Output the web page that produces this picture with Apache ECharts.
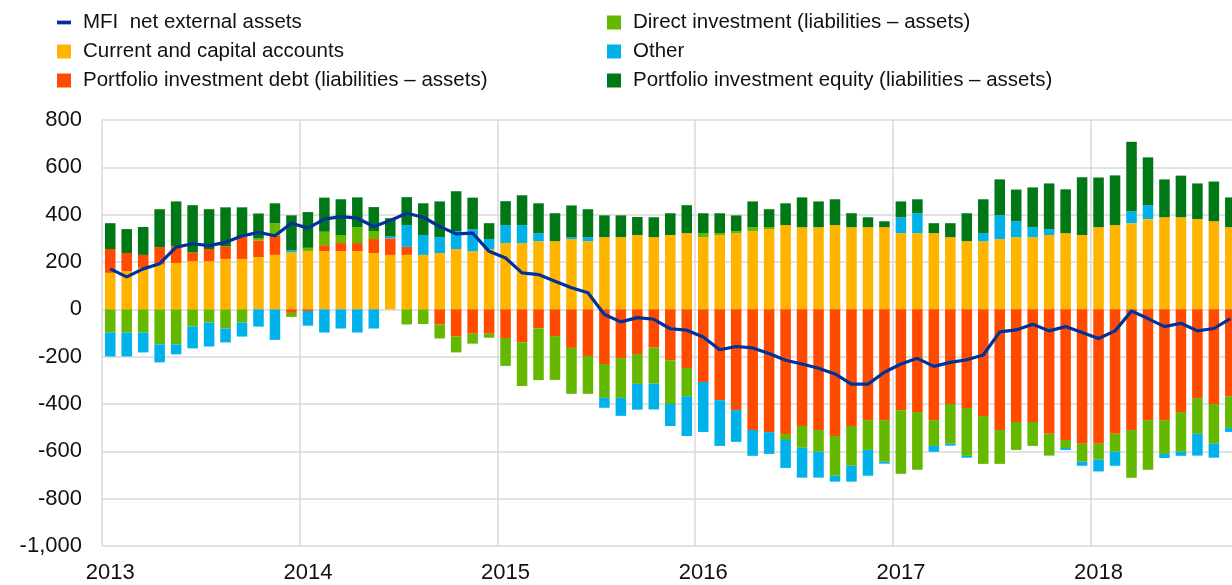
<!DOCTYPE html>
<html>
<head>
<meta charset="utf-8">
<script src="https://cdn.jsdelivr.net/npm/echarts@6/dist/echarts.min.js"></script>
<style>
html,body{margin:0;padding:0;background:#fff;overflow:hidden;width:1232px;height:585px;}
#chart{width:1288px;height:585px;}
</style>
</head>
<body>
<div id="chart"></div>
<script>
// Tick labels (years) and monthly categories 2013-01 .. 2018-12
const yearLabels = ["2013","2014","2015","2016","2017","2018"];
const monthCodes = ["01","02","03","04","05","06","07","08","09","10","11","12"];
const categories = [];
yearLabels.forEach(y => monthCodes.forEach(m => categories.push(y + "-" + m)));

const seriesNames = [
  "MFI  net external assets",
  "Current and capital accounts",
  "Portfolio investment debt (liabilities – assets)",
  "Direct investment (liabilities – assets)",
  "Other",
  "Portfolio investment equity (liabilities – assets)"
];

// EUR billions, 12-month cumulated flows
const mfiNetExternalAssets = [
  171,137,171,193,263,277,269,283,310,325,
  311,364,343,381,392,385,350,375,406,389,
  350,319,322,245,217,154,147,119,91,70,
  -22,-53,-35,-42,-82,-88,-117,-171,-157,-163,
  -187,-215,-231,-249,-273,-316,-316,-266,-231,-207,
  -241,-224,-213,-193,-95,-87,-63,-91,-73,-98,
  -123,-91,-7,-39,-73,-59,-91,-81,-39
];
const currentCapital = [
  154,161,175,189,196,203,203,213,213,221,
  230,241,246,246,246,246,238,230,230,230,
  238,255,246,255,280,280,288,288,297,288,
  305,305,314,305,314,322,305,314,322,330,
  339,356,347,347,356,347,347,347,322,322,
  322,305,288,288,297,305,305,314,322,314,
  347,356,364,381,389,389,381,372,347
];
const portfolioDebt = [
  101,77,55,74,70,38,52,53,95,70,
  81,-15,-7,25,34,34,59,70,34,0,
  -64,-115,-103,-103,-121,-139,-80,-113,-163,-197,
  -231,-206,-189,-162,-215,-248,-307,-384,-426,-510,
  -519,-527,-493,-510,-535,-493,-468,-468,-426,-434,
  -468,-400,-417,-451,-510,-476,-476,-526,-552,-568,
  -568,-526,-510,-468,-468,-434,-375,-400,-367
];
const directInvestment = [
  -98,-98,-98,-148,-148,-73,-56,-81,-56,8,
  53,-17,14,57,34,67,34,0,-64,-62,
  -59,-67,-42,-17,-118,-185,-219,-185,-194,-160,
  -143,-168,-126,-152,-185,-119,17,8,8,17,
  8,-25,-92,-92,-168,-168,-126,-176,-269,-244,
  -109,-168,-202,-202,-143,-118,-101,-92,-34,-76,
  -67,-76,-202,-210,-143,-168,-151,-168,-134
];
const other = [
  -101,-101,-84,-76,-42,-92,-101,-59,-59,-73,
  -129,8,-62,-98,-81,-98,-81,8,92,84,
  67,76,92,42,76,76,34,0,8,17,
  -42,-76,-109,-109,-93,-168,-211,-193,-134,-109,
  -92,-118,-126,-109,-25,-67,-109,-8,67,84,
  -25,-8,-8,34,101,67,42,25,-8,-17,
  -50,-59,50,59,-17,-17,-92,-59,-17
];
const portfolioEquity = [
  109,101,118,160,190,199,168,165,123,106,
  84,148,151,144,151,126,101,77,118,134,
  151,168,134,67,101,126,126,118,134,118,
  92,92,76,84,92,118,84,84,67,109,
  76,92,126,109,109,59,42,25,67,59,
  42,59,118,143,151,134,168,193,185,244,
  210,210,294,202,160,176,151,168,126
];

const colors = {
  mfi: "#003299",
  current: "#FFB400",
  debt: "#FF4B00",
  direct: "#65B800",
  other: "#00B1EA",
  equity: "#007816"
};

function fmt(v){
  const s = Math.abs(v).toString().replace(/\B(?=(\d{3})+(?!\d))/g, ",");
  return (v < 0 ? "-" : "") + s;
}

const FONT = "'Liberation Sans', Arial, sans-serif";
const legendText = {fontSize: 20.5, lineHeight: 20, color: "#111", fontFamily: FONT, padding: [0,0,0,7]};

function barSeries(name, data, color){
  return {
    name: name, type: "bar", stack: "total", data: data,
    barCategoryGap: "36%",
    itemStyle: {color: color},
    emphasis: {disabled: true}
  };
}

const chart = echarts.init(document.getElementById("chart"), null, {renderer: "canvas", width: 1288, height: 585});
chart.setOption({
  animation: false,
  backgroundColor: "#fff",
  textStyle: {fontFamily: FONT},
  legend: [
    {
      orient: "vertical", left: 57, top: 12, padding: 0,
      itemWidth: 14, itemHeight: 14, itemGap: 8, icon: "rect",
      textStyle: legendText,
      data: [
        {name: seriesNames[0], icon: "path://M0,0H15V4H0Z"},
        {name: seriesNames[1]},
        {name: seriesNames[2]}
      ]
    },
    {
      orient: "vertical", left: 607, top: 12, padding: 0,
      itemWidth: 14, itemHeight: 14, itemGap: 8, icon: "rect",
      textStyle: legendText,
      data: [
        {name: seriesNames[3]},
        {name: seriesNames[4]},
        {name: seriesNames[5]}
      ]
    }
  ],
  grid: {left: 102, top: 120, right: 0, height: 426, containLabel: false},
  xAxis: {
    type: "category",
    data: categories,
    boundaryGap: true,
    axisLine: {show: false},
    axisTick: {show: false},
    axisLabel: {
      interval: 11,
      margin: 16,
      fontSize: 22,
      color: "#111",
      fontFamily: FONT,
      formatter: v => v.slice(0, 4)
    },
    splitLine: {
      show: true,
      interval: (idx) => idx % 12 === 0,
      lineStyle: {color: "#d9d9d9", width: 1.5}
    }
  },
  yAxis: {
    type: "value",
    min: -1000, max: 800, interval: 200,
    axisLine: {show: false},
    axisTick: {show: false},
    axisLabel: {margin: 20, fontSize: 22, color: "#111", fontFamily: FONT, formatter: fmt},
    splitLine: {show: true, lineStyle: {color: "#d9d9d9", width: 1.5}}
  },
  series: [
    barSeries(seriesNames[1], currentCapital, colors.current),
    barSeries(seriesNames[2], portfolioDebt, colors.debt),
    barSeries(seriesNames[3], directInvestment, colors.direct),
    barSeries(seriesNames[4], other, colors.other),
    barSeries(seriesNames[5], portfolioEquity, colors.equity),
    {
      name: seriesNames[0], type: "line", data: mfiNetExternalAssets,
      symbol: "none", z: 10,
      itemStyle: {color: colors.mfi},
      lineStyle: {color: colors.mfi, width: 3.2},
      emphasis: {disabled: true}
    }
  ]
});
</script>
</body>
</html>
